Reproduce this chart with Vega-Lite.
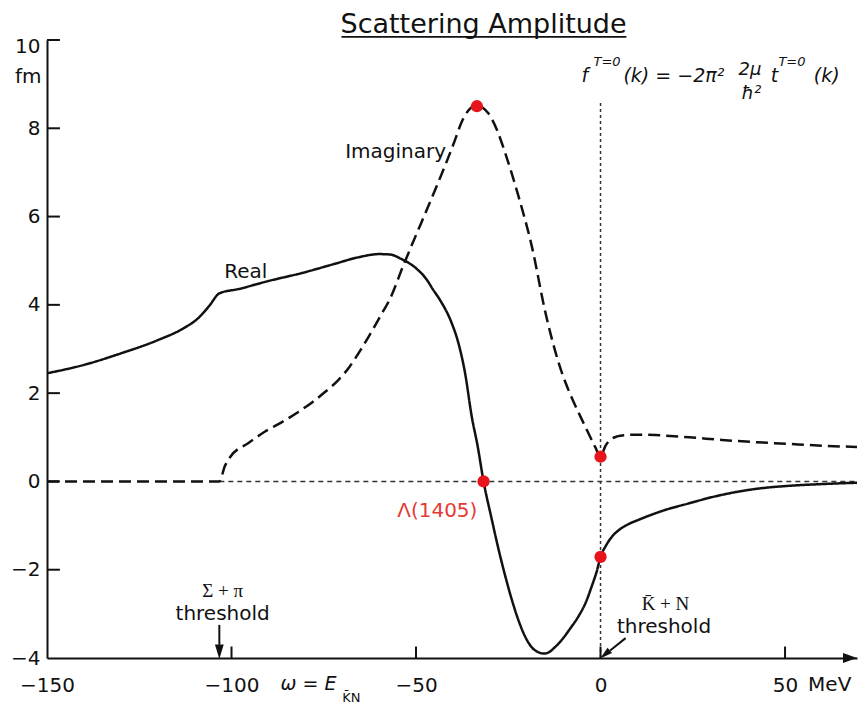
{
  "$schema": "https://vega.github.io/schema/vega-lite/v6.json",
  "width": 810,
  "height": 618,
  "autosize": {"type": "none"},
  "padding": {"left": 47, "top": 40, "right": 2, "bottom": 46},
  "background": "white",
  "config": {
    "view": {"stroke": null},
    "axis": {"grid": false, "title": null, "ticks": false, "domainColor": "#111", "domainWidth": 2, "labelFont": "DejaVu Sans", "labelFontSize": 20, "labelColor": "#111"},
    "text": {"font": "DejaVu Sans", "baseline": "alphabetic", "color": "#111"}
  },
  "datasets": {
    "curves": [
      {"x": -150, "y": 2.45, "s": "Real"}, {"x": -140, "y": 2.64, "s": "Real"}, {"x": -130, "y": 2.9, "s": "Real"}, {"x": -120, "y": 3.2, "s": "Real"}, {"x": -113, "y": 3.47, "s": "Real"}, {"x": -109, "y": 3.7, "s": "Real"}, {"x": -106, "y": 3.98, "s": "Real"}, {"x": -103.3, "y": 4.26, "s": "Real"}, {"x": -98, "y": 4.36, "s": "Real"}, {"x": -90, "y": 4.54, "s": "Real"}, {"x": -81, "y": 4.72, "s": "Real"}, {"x": -72, "y": 4.93, "s": "Real"}, {"x": -66, "y": 5.07, "s": "Real"}, {"x": -60, "y": 5.15, "s": "Real"}, {"x": -57, "y": 5.14, "s": "Real"}, {"x": -54, "y": 5.04, "s": "Real"}, {"x": -50, "y": 4.83, "s": "Real"}, {"x": -47, "y": 4.56, "s": "Real"}, {"x": -45.5, "y": 4.36, "s": "Real"}, {"x": -43.5, "y": 4.11, "s": "Real"}, {"x": -40.3, "y": 3.58, "s": "Real"}, {"x": -38.5, "y": 3.13, "s": "Real"}, {"x": -36.7, "y": 2.45, "s": "Real"}, {"x": -34.9, "y": 1.47, "s": "Real"}, {"x": -33.3, "y": 0.8, "s": "Real"}, {"x": -31.7, "y": 0, "s": "Real"}, {"x": -29.5, "y": -0.85, "s": "Real"}, {"x": -27.6, "y": -1.55, "s": "Real"}, {"x": -25.8, "y": -2.15, "s": "Real"}, {"x": -24, "y": -2.69, "s": "Real"}, {"x": -22, "y": -3.2, "s": "Real"}, {"x": -20.4, "y": -3.52, "s": "Real"}, {"x": -18.5, "y": -3.77, "s": "Real"}, {"x": -16.8, "y": -3.87, "s": "Real"}, {"x": -15.3, "y": -3.9, "s": "Real"}, {"x": -14, "y": -3.87, "s": "Real"}, {"x": -12.3, "y": -3.75, "s": "Real"}, {"x": -10.5, "y": -3.59, "s": "Real"}, {"x": -8.2, "y": -3.33, "s": "Real"}, {"x": -6, "y": -3.06, "s": "Real"}, {"x": -4, "y": -2.74, "s": "Real"}, {"x": -2.4, "y": -2.38, "s": "Real"}, {"x": -1, "y": -2.03, "s": "Real"}, {"x": 0, "y": -1.71, "s": "Real"}, {"x": 1.5, "y": -1.45, "s": "Real"}, {"x": 3.1, "y": -1.25, "s": "Real"}, {"x": 5, "y": -1.1, "s": "Real"}, {"x": 7.5, "y": -0.97, "s": "Real"}, {"x": 10.3, "y": -0.87, "s": "Real"}, {"x": 17, "y": -0.66, "s": "Real"}, {"x": 23.8, "y": -0.5, "s": "Real"}, {"x": 30.5, "y": -0.35, "s": "Real"}, {"x": 37.4, "y": -0.23, "s": "Real"}, {"x": 44, "y": -0.15, "s": "Real"}, {"x": 51, "y": -0.1, "s": "Real"}, {"x": 60, "y": -0.06, "s": "Real"}, {"x": 69.5, "y": -0.03, "s": "Real"},
      {"x": -150, "y": 0, "s": "Imaginary"}, {"x": -103.3, "y": 0, "s": "Imaginary"}, {"x": -101.8, "y": 0.35, "s": "Imaginary"}, {"x": -100.3, "y": 0.56, "s": "Imaginary"}, {"x": -95.4, "y": 0.87, "s": "Imaginary"}, {"x": -90.9, "y": 1.13, "s": "Imaginary"}, {"x": -86, "y": 1.36, "s": "Imaginary"}, {"x": -81.8, "y": 1.58, "s": "Imaginary"}, {"x": -78, "y": 1.8, "s": "Imaginary"}, {"x": -74.6, "y": 2.03, "s": "Imaginary"}, {"x": -71, "y": 2.3, "s": "Imaginary"}, {"x": -68, "y": 2.6, "s": "Imaginary"}, {"x": -65, "y": 2.98, "s": "Imaginary"}, {"x": -61.8, "y": 3.43, "s": "Imaginary"}, {"x": -59.5, "y": 3.77, "s": "Imaginary"}, {"x": -57.2, "y": 4.11, "s": "Imaginary"}, {"x": -53.4, "y": 4.9, "s": "Imaginary"}, {"x": -50, "y": 5.58, "s": "Imaginary"}, {"x": -47.5, "y": 6.07, "s": "Imaginary"}, {"x": -44.5, "y": 6.67, "s": "Imaginary"}, {"x": -41.9, "y": 7.2, "s": "Imaginary"}, {"x": -39.5, "y": 7.72, "s": "Imaginary"}, {"x": -37.6, "y": 8.15, "s": "Imaginary"}, {"x": -36.2, "y": 8.36, "s": "Imaginary"}, {"x": -35, "y": 8.47, "s": "Imaginary"}, {"x": -33.5, "y": 8.53, "s": "Imaginary"}, {"x": -32, "y": 8.47, "s": "Imaginary"}, {"x": -30.4, "y": 8.34, "s": "Imaginary"}, {"x": -28, "y": 7.95, "s": "Imaginary"}, {"x": -25.8, "y": 7.43, "s": "Imaginary"}, {"x": -22.2, "y": 6.45, "s": "Imaginary"}, {"x": -18.6, "y": 5.32, "s": "Imaginary"}, {"x": -15, "y": 3.85, "s": "Imaginary"}, {"x": -13, "y": 3.17, "s": "Imaginary"}, {"x": -11.4, "y": 2.7, "s": "Imaginary"}, {"x": -9.5, "y": 2.24, "s": "Imaginary"}, {"x": -7.5, "y": 1.84, "s": "Imaginary"}, {"x": -5.5, "y": 1.48, "s": "Imaginary"}, {"x": -3.5, "y": 1.13, "s": "Imaginary"}, {"x": -1.4, "y": 0.77, "s": "Imaginary"}, {"x": 0, "y": 0.56, "s": "Imaginary"}, {"x": 1.3, "y": 0.8, "s": "Imaginary"}, {"x": 2.6, "y": 0.94, "s": "Imaginary"}, {"x": 4.5, "y": 1.02, "s": "Imaginary"}, {"x": 6.7, "y": 1.05, "s": "Imaginary"}, {"x": 10, "y": 1.06, "s": "Imaginary"}, {"x": 14.8, "y": 1.05, "s": "Imaginary"}, {"x": 24, "y": 1.0, "s": "Imaginary"}, {"x": 32.9, "y": 0.94, "s": "Imaginary"}, {"x": 42, "y": 0.89, "s": "Imaginary"}, {"x": 51, "y": 0.85, "s": "Imaginary"}, {"x": 60, "y": 0.81, "s": "Imaginary"}, {"x": 69.5, "y": 0.78, "s": "Imaginary"}
    ],
    "dots": [
      {"x": -33.5, "y": 8.5}, {"x": -31.7, "y": 0}, {"x": 0, "y": 0.56}, {"x": 0, "y": -1.71}
    ],
    "yticks": [{"v": -2}, {"v": 0}, {"v": 2}, {"v": 4}, {"v": 6}, {"v": 8}, {"v": 10}],
    "xticks": [{"v": -100}, {"v": -50}, {"v": 0}, {"v": 50}],
    "one": [{}]
  },
  "layer": [
    {
      "data": {"name": "one"},
      "mark": {"type": "rule", "strokeDash": [5, 4], "strokeWidth": 1.5, "color": "#333"},
      "encoding": {"x": {"datum": -103.3, "type": "quantitative"}, "x2": {"datum": 69.5}, "y": {"datum": 0, "type": "quantitative"}}
    },
    {
      "data": {"name": "one"},
      "mark": {"type": "rule", "strokeDash": [3, 3], "strokeWidth": 1.5, "color": "#333"},
      "encoding": {"x": {"datum": 0, "type": "quantitative"}, "y": {"datum": -4, "type": "quantitative"}, "y2": {"datum": 8.6}}
    },
    {
      "data": {"name": "curves"},
      "mark": {"type": "line", "interpolate": "monotone", "strokeWidth": 2.5, "color": "#111"},
      "encoding": {
        "x": {"field": "x", "type": "quantitative", "scale": {"domain": [-150, 69.5], "nice": false, "zero": false},
              "axis": {"values": [-150, -100, -50, 0, 50], "labelPadding": 17, "labelFlush": false}},
        "y": {"field": "y", "type": "quantitative", "scale": {"domain": [-4, 10], "nice": false, "zero": false},
              "axis": {"values": [-4, -2, 0, 2, 4, 6, 8, 10], "labelPadding": 7, "labelFlush": false,
                       "labelOffset": {"condition": {"test": "datum.value == 10", "value": 6}, "value": 0}}},
        "strokeDash": {"field": "s", "type": "nominal", "scale": {"domain": ["Real", "Imaginary"], "range": [[1, 0], [12, 6]]}, "legend": null}
      }
    },
    {
      "data": {"name": "yticks"},
      "mark": {"type": "rule", "strokeWidth": 2, "color": "#111"},
      "encoding": {"x": {"datum": -150, "type": "quantitative"}, "x2": {"datum": -146.5}, "y": {"field": "v", "type": "quantitative"}}
    },
    {
      "data": {"name": "xticks"},
      "mark": {"type": "rule", "strokeWidth": 2, "color": "#111"},
      "encoding": {"x": {"field": "v", "type": "quantitative"}, "y": {"datum": -4, "type": "quantitative"}, "y2": {"datum": -3.74}}
    },
    {
      "data": {"name": "dots"},
      "mark": {"type": "point", "filled": true, "color": "#e8141c", "opacity": 1, "size": 150},
      "encoding": {"x": {"field": "x", "type": "quantitative"}, "y": {"field": "y", "type": "quantitative"}}
    },
    {
      "data": {"values": [{"x": -31.7, "y": 10.16, "t": "Scattering Amplitude"}]},
      "mark": {"type": "text", "fontSize": 27, "align": "center"},
      "encoding": {"x": {"field": "x", "type": "quantitative"}, "y": {"field": "y", "type": "quantitative"}, "text": {"field": "t"}}
    },
    {
      "data": {"name": "one"},
      "mark": {"type": "rule", "strokeWidth": 1.6, "color": "#111"},
      "encoding": {"x": {"datum": -70.2, "type": "quantitative"}, "x2": {"datum": 7.0}, "y": {"datum": 10.07, "type": "quantitative"}}
    },
    {
      "data": {"values": [{"x": -102, "y": 4.6, "t": "Real"}, {"x": -69.2, "y": 7.33, "t": "Imaginary"}]},
      "mark": {"type": "text", "fontSize": 20, "align": "left"},
      "encoding": {"x": {"field": "x", "type": "quantitative"}, "y": {"field": "y", "type": "quantitative"}, "text": {"field": "t"}}
    },
    {
      "data": {"values": [{"x": -55.1, "y": -0.81, "t": "Λ(1405)"}]},
      "mark": {"type": "text", "fontSize": 20, "align": "left", "color": "#e53935"},
      "encoding": {"x": {"field": "x", "type": "quantitative"}, "y": {"field": "y", "type": "quantitative"}, "text": {"field": "t"}}
    },
    {
      "data": {"values": [{"x": -155.1, "y": 9.03, "t": "fm"}, {"x": 62.1, "y": -4.75, "t": "MeV"}, {"x": -102.4, "y": -3.14, "t": "threshold"}, {"x": 17.2, "y": -3.43, "t": "threshold"}]},
      "mark": {"type": "text", "fontSize": 20, "align": "center"},
      "encoding": {"x": {"field": "x", "type": "quantitative"}, "y": {"field": "y", "type": "quantitative"}, "text": {"field": "t"}}
    },
    {
      "data": {"values": [{"x": -102.4, "y": -2.62, "t": "Σ + π"}, {"x": 17.6, "y": -2.92, "t": "K̄ + N"}]},
      "mark": {"type": "text", "fontSize": 19, "align": "center", "font": "Liberation Serif"},
      "encoding": {"x": {"field": "x", "type": "quantitative"}, "y": {"field": "y", "type": "quantitative"}, "text": {"field": "t"}}
    },
    {
      "data": {"values": [{"x": -86.7, "y": -4.72, "t": "ω = E"}]},
      "mark": {"type": "text", "fontSize": 19, "align": "left", "fontStyle": "italic"},
      "encoding": {"x": {"field": "x", "type": "quantitative"}, "y": {"field": "y", "type": "quantitative"}, "text": {"field": "t"}}
    },
    {
      "data": {"values": [{"x": -70, "y": -4.99, "t": "K̄N"}]},
      "mark": {"type": "text", "fontSize": 13, "align": "left"},
      "encoding": {"x": {"field": "x", "type": "quantitative"}, "y": {"field": "y", "type": "quantitative"}, "text": {"field": "t"}}
    },
    {
      "data": {"values": [{"x": -5.15, "y": 9.05, "t": "f"}, {"x": 6.2, "y": 9.05, "t": "(k) = −2π²"}, {"x": 46.1, "y": 9.05, "t": "t"}, {"x": 57.8, "y": 9.05, "t": "(k)"}]},
      "mark": {"type": "text", "fontSize": 19, "align": "left", "fontStyle": "italic"},
      "encoding": {"x": {"field": "x", "type": "quantitative"}, "y": {"field": "y", "type": "quantitative"}, "text": {"field": "t"}}
    },
    {
      "data": {"values": [{"x": 37.4, "y": 9.2, "t": "2μ"}, {"x": 38.2, "y": 8.66, "t": "ħ²"}]},
      "mark": {"type": "text", "fontSize": 18, "align": "left", "fontStyle": "italic"},
      "encoding": {"x": {"field": "x", "type": "quantitative"}, "y": {"field": "y", "type": "quantitative"}, "text": {"field": "t"}}
    },
    {
      "data": {"values": [{"x": -1.9, "y": 9.4, "t": "T=0"}, {"x": 48.2, "y": 9.4, "t": "T=0"}]},
      "mark": {"type": "text", "fontSize": 13, "align": "left", "fontStyle": "italic"},
      "encoding": {"x": {"field": "x", "type": "quantitative"}, "y": {"field": "y", "type": "quantitative"}, "text": {"field": "t"}}
    },
    {
      "data": {"name": "one"},
      "mark": {"type": "rule", "strokeWidth": 2, "color": "#111"},
      "encoding": {"x": {"datum": -103.3, "type": "quantitative"}, "y": {"datum": -3.25, "type": "quantitative"}, "y2": {"datum": -3.7}}
    },
    {
      "data": {"name": "one"},
      "mark": {"type": "rule", "strokeWidth": 2, "color": "#111"},
      "encoding": {"x": {"datum": 6.8, "type": "quantitative"}, "x2": {"datum": 2.6}, "y": {"datum": -3.55, "type": "quantitative"}, "y2": {"datum": -3.83}}
    },
    {
      "data": {"name": "one"},
      "mark": {"type": "point", "filled": true, "color": "#111", "opacity": 1, "size": 256, "shape": "M0,1L-0.55,-0.8L0.55,-0.8Z"},
      "encoding": {"x": {"datum": -103.3, "type": "quantitative"}, "y": {"datum": -3.84, "type": "quantitative"}}
    },
    {
      "data": {"name": "one"},
      "mark": {"type": "point", "filled": true, "color": "#111", "opacity": 1, "size": 196, "shape": "M-0.77,0.64L0.93,-0.13L0.29,-0.9Z"},
      "encoding": {"x": {"datum": 1.36, "type": "quantitative"}, "y": {"datum": -3.91, "type": "quantitative"}}
    },
    {
      "data": {"name": "one"},
      "mark": {"type": "point", "filled": true, "color": "#111", "opacity": 1, "size": 196, "shape": "M1,0L-1,-0.7L-1,0.7Z"},
      "encoding": {"x": {"datum": 67.6, "type": "quantitative"}, "y": {"datum": -4, "type": "quantitative"}}
    }
  ]
}
